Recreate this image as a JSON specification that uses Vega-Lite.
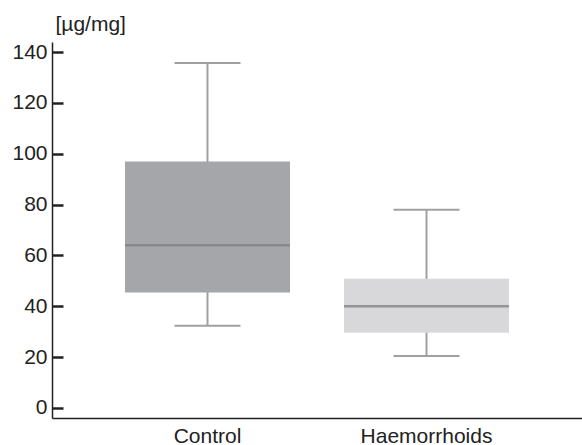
{
  "$schema": "https://vega.github.io/schema/vega-lite/v6.json",
  "width": 530,
  "height": 376,
  "autosize": "none",
  "padding": {"left": 52, "top": 42, "right": 0, "bottom": 27},
  "background": "white",
  "config": {"view": {"stroke": null}, "font": "Liberation Sans"},
  "data": {"values": [
    {"group": "Control", "min": 32.3, "q1": 45.4, "median": 64, "q3": 97, "max": 135.7},
    {"group": "Haemorrhoids", "min": 20.4, "q1": 29.6, "median": 40, "q3": 50.8, "max": 78}
  ]},
  "encoding": {
    "x": {
      "field": "group", "type": "nominal", "sort": null,
      "scale": {"paddingInner": 0.2, "paddingOuter": 0.31},
      "axis": {"title": null, "ticks": false, "labelAngle": 0, "labelFontSize": 21, "labelColor": "#222222", "labelPadding": 7, "domainColor": "#222222", "domainWidth": 1.5, "grid": false}
    }
  },
  "layer": [
    {
      "mark": {"type": "rule", "color": "#a0a0a3", "strokeWidth": 2},
      "encoding": {
        "y": {
          "field": "min", "type": "quantitative",
          "scale": {"domain": [-4, 144], "nice": false, "zero": false},
          "axis": {
            "title": "[µg/mg]", "titleAngle": 0, "titleAlign": "left", "titleBaseline": "alphabetic",
            "titleX": 3, "titleY": -12, "titleFontSize": 21, "titleFontWeight": "normal", "titleColor": "#222222",
            "values": [0, 20, 40, 60, 80, 100, 120, 140], "grid": false,
            "tickSize": -11, "tickWidth": 2.5, "tickColor": "#222222",
            "domainColor": "#222222", "domainWidth": 1.5,
            "labelFontSize": 21, "labelColor": "#222222", "labelPadding": 16
          }
        },
        "y2": {"field": "max"}
      }
    },
    {
      "mark": {"type": "bar", "size": 165},
      "encoding": {
        "y": {"field": "q1", "type": "quantitative"},
        "y2": {"field": "q3"},
        "color": {"field": "group", "type": "nominal", "sort": null, "scale": {"range": ["#a5a6aa", "#d8d8da"]}, "legend": null}
      }
    },
    {
      "mark": {"type": "tick", "size": 66, "thickness": 2, "color": "#a0a0a3", "opacity": 1},
      "encoding": {"y": {"field": "min", "type": "quantitative"}}
    },
    {
      "mark": {"type": "tick", "size": 66, "thickness": 2, "color": "#a0a0a3", "opacity": 1},
      "encoding": {"y": {"field": "max", "type": "quantitative"}}
    },
    {
      "mark": {"type": "tick", "size": 165, "thickness": 2.5, "opacity": 1},
      "encoding": {
        "y": {"field": "median", "type": "quantitative"},
        "color": {"field": "group", "type": "nominal", "sort": null, "scale": {"range": ["#88898d", "#949498"]}, "legend": null}
      }
    }
  ],
  "resolve": {"scale": {"color": "independent"}}
}
